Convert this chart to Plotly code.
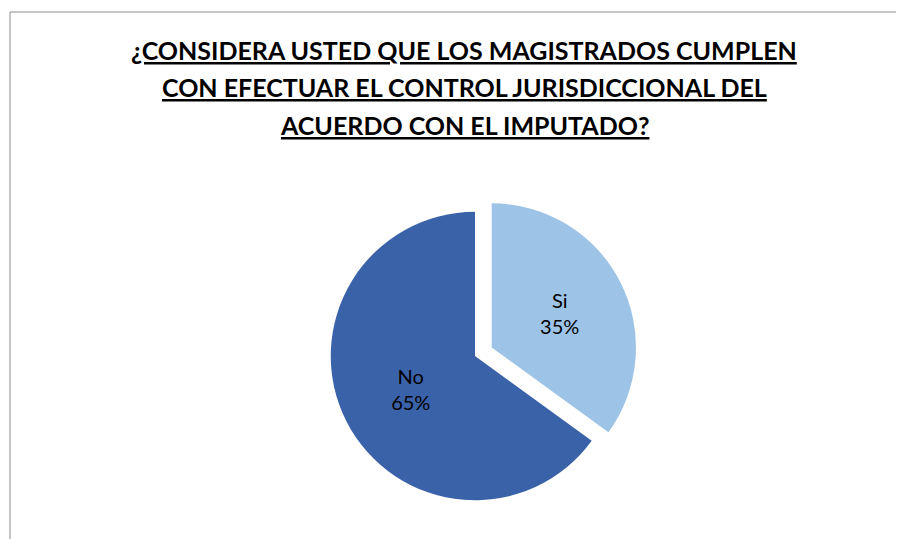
import plotly.graph_objects as go

labels = ["Si", "No"]
values = [35, 65]
colors = ["#9DC3E6", "#3A62A8"]
title_lines = ["¿CONSIDERA USTED QUE LOS MAGISTRADOS CUMPLEN",
               "CON EFECTUAR EL CONTROL JURISDICCIONAL DEL",
               "ACUERDO CON EL IMPUTADO?"]

W, H = 904, 539
OFF = 8  # page body margin
fig = go.Figure(go.Pie(
    labels=labels, values=values, sort=False, direction="clockwise", rotation=0,
    pull=[0.13, 0], marker=dict(colors=colors, line=dict(width=0)),
    texttemplate="%{label}<br>%{percent:.0%}", textposition="inside",
    insidetextfont=dict(family="Lato, Open Sans, sans-serif", size=20, color="black"),
    domain=dict(x=[(135 - OFF) / W, (815 - OFF) / W], y=[(OFF + 20) / H, (OFF + 346) / H]),
    showlegend=False, hoverinfo="label+percent",
))
for i, t in enumerate(title_lines):
    fig.add_annotation(
        text=f"<b><u>{t}</u></b>",
        x=(464 - OFF) / W, y=1 - (50 - OFF + 37.5 * i) / H, xref="paper", yref="paper",
        xanchor="center", yanchor="middle",
        showarrow=False, font=dict(family="Lato, sans-serif", size=25, color="black"),
    )
fig.add_shape(type="line", xref="paper", yref="paper", x0=(10 - OFF) / W, x1=1,
              y0=1 - (12 - OFF) / H, y1=1 - (12 - OFF) / H, line=dict(color="#8c8c8c", width=1))
fig.add_shape(type="line", xref="paper", yref="paper", x0=(10 - OFF) / W, x1=(10 - OFF) / W,
              y0=0, y1=1 - (12 - OFF) / H, line=dict(color="#8c8c8c", width=1))
fig.update_layout(width=W, height=H, margin=dict(l=0, r=0, t=0, b=0),
                  paper_bgcolor="white", plot_bgcolor="white")
fig.write_html("out.html")
